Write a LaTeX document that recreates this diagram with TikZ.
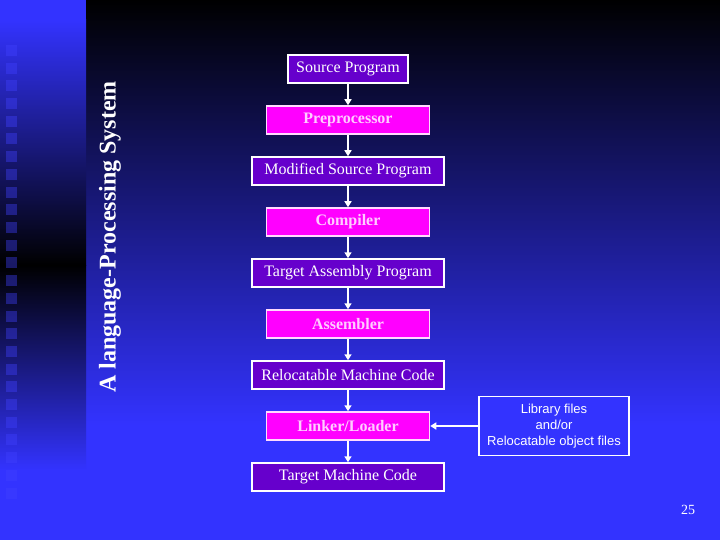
\documentclass[tikz,border=0pt]{standalone}
\usepackage{fontspec}
\setmainfont{Liberation Serif}
\newfontfamily\arialfont{Liberation Sans}
\usepackage{tikz}
\usetikzlibrary{
  arrows.meta,
  positioning
}
\usepackage{xcolor}
\definecolor{slideBlue}{rgb}{0.2,0.2,1}
\definecolor{squareBlue}{rgb}{0.25,0.25,1}
\definecolor{progPurple}{rgb}{0.4,0,0.8}
\definecolor{toolMagenta}{rgb}{1,0,1}
\definecolor{paleMagenta}{rgb}{1,0.85,1}
\definecolor{toolText}{rgb}{1,0.8,1}
\tikzset{
  progbox/.style={
    fill=progPurple,
    draw=white,
    line width=1.5pt,
    text=white,
    minimum height=28pt,
    inner sep=0pt,
    font=\fontsize{16}{19}\selectfont
  },
  toolbox/.style={
    fill=toolMagenta,
    draw=paleMagenta,
    line width=1.5pt,
    text=toolText,
    minimum width=163pt,
    minimum height=28pt,
    inner sep=0pt,
    font=\fontsize{16}{19}\selectfont\bfseries
  },
  libbox/.style={
    fill=slideBlue,
    draw=white,
    line width=1.5pt,
    text=white,
    align=center,
    minimum width=150pt,
    minimum height=59pt,
    inner sep=0pt,
    font=\arialfont\fontsize{13}{16}\selectfont
  }
}

\begin{document}
\begin{tikzpicture}[
      x=1pt, y=1pt,
      >={Triangle[width=7pt,length=6pt]},
      node distance=21.5pt
      ]
      \useasboundingbox (0,0) rectangle (720,-540);

      % slide background
      \shade[top color=black, bottom color=slideBlue] (86,0) rectangle (720,-425);
      \fill[slideBlue] (86,-425) rectangle (720,-540);
      \shade[top color=slideBlue, bottom color=black] (0,-20) rectangle (86,-265);
      \fill[slideBlue] (0,0) rectangle (86,-20);
      \shade[top color=black, bottom color=slideBlue] (0,-265) rectangle (86,-470);
      \fill[slideBlue] (0,-470) rectangle (86,-540);
      \foreach \k in {0,...,25}{
        \fill[squareBlue, opacity=0.4] (6,{-45-17.7*\k}) rectangle ++(11,-11);
      }

      \node[rotate=90, text=white, font=\fontsize{24}{28}\selectfont\bfseries]
        (title) at (110,-237) {A language-Processing System};

      % flow
      \node[progbox, minimum width=120pt] (src) at (348,-69) {Source Program};
      \node[toolbox, below=of src] (pre) {Preprocessor};
      \node[progbox, minimum width=192pt, below=of pre] (msp) {Modified Source Program};
      \node[toolbox, below=of msp] (comp) {Compiler};
      \node[progbox, minimum width=192pt, below=of comp] (tap) {Target Assembly Program};
      \node[toolbox, below=of tap] (asm) {Assembler};
      \node[progbox, minimum width=192pt, below=of asm] (rmc) {Relocatable Machine Code};
      \node[toolbox, below=of rmc] (link) {Linker/Loader};
      \node[progbox, minimum width=192pt, below=of link] (tmc) {Target Machine Code};
      \node[libbox, right=48pt of link] (lib)
        {Library files\\and/or\\Relocatable object files};

      \foreach \a/\b in {src/pre, pre/msp, msp/comp, comp/tap, tap/asm, asm/rmc, rmc/link, link/tmc}{
        \draw[->, white, line width=1.5pt] (\a) -- (\b);
      }
      \draw[->, white, line width=1.5pt] (lib) -- (link);

      \node[text=white, font=\fontsize{14}{16}\selectfont] (pagenum) at (688,-510) {25};
    \end{tikzpicture}
\end{document}
